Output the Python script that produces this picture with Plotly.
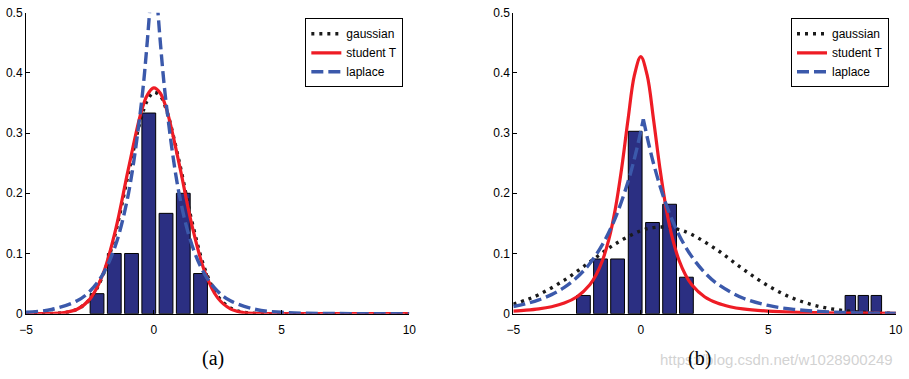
import plotly.graph_objects as go

# ---------------- panel (a): data without outliers ----------------
A_BAR_X = [-2.22, -1.545, -0.87, -0.195, 0.48, 1.155, 1.83]
A_BAR_Y = [0.0333, 0.1, 0.1, 0.3333, 0.1667, 0.2, 0.0667]

A_CURVE_X = [-5, -4, -3.5, -3, -2.5, -2, -1.5, -1, -0.5, -0.25, 0, 0.25, 0.5,
             1, 1.5, 2, 2.5, 3, 3.5, 4, 5, 6, 7, 8, 9, 10]
A_GAUSS_Y = [0.0000, 0.0004, 0.0018, 0.0073, 0.0238, 0.0627, 0.1339, 0.2314,
             0.3240, 0.3543, 0.3676, 0.3619, 0.3379, 0.2517, 0.1519, 0.0743,
             0.0294, 0.0094, 0.0025, 0.0005, 0, 0, 0, 0, 0, 0]
A_STUD_Y = [0.0000, 0.0003, 0.0018, 0.0073, 0.0242, 0.0644, 0.1383, 0.2393,
            0.3337, 0.3634, 0.3750, 0.3665, 0.3395, 0.2477, 0.1456, 0.0690,
            0.0263, 0.0081, 0.0020, 0.0004, 0, 0, 0, 0, 0, 0]
A_LAP_LX = [-5, -4, -3, -2.5, -2, -1.5, -1, -0.5, -0.25, 0]
A_LAP_LY = [0.0023, 0.0070, 0.0214, 0.0373, 0.0650, 0.1133, 0.1975, 0.3443, 0.4545, 0.6]
A_LAP_RX = [0, 0.25, 0.5, 1, 1.5, 2, 2.5, 3, 4, 5, 6, 7, 8, 9, 10]
A_LAP_RY = [0.6, 0.4545, 0.3443, 0.1975, 0.1133, 0.0650, 0.0373, 0.0214, 0.0070,
            0.0023, 0.0008, 0.0003, 0.0001, 0, 0]

# ---------------- panel (b): data with outliers ----------------
B_BAR_X = [-2.25, -1.58, -0.91, -0.22, 0.46, 1.13, 1.79, 8.22, 8.73, 9.24]
B_BAR_Y = [0.0303, 0.0909, 0.0909, 0.3030, 0.1515, 0.1818, 0.0606, 0.0303, 0.0303, 0.0303]

B_GAUSS_X = [-5, -4.5, -4, -3, -2, -1, 0, 0.5, 1, 1.5, 2, 3, 4, 5, 6, 7, 8, 9, 10]
B_GAUSS_Y = [0.0158, 0.0228, 0.0317, 0.0557, 0.0858, 0.1160, 0.1378, 0.1430, 0.1437,
             0.1397, 0.1315, 0.1057, 0.0745, 0.0461, 0.0251, 0.0120, 0.0050, 0.0018, 0.0006]
B_STUD_X = [-5, -4.5, -4, -3.5, -3, -2.5, -2, -1.75, -1.5, -1.25, -1, -0.75, -0.5, -0.25, 0,
            0.25, 0.5, 0.75, 1, 1.25, 1.5, 1.75, 2, 2.5, 3, 3.5, 4, 5, 6, 7, 8, 9, 10]
B_STUD_Y = [0.0043, 0.0058, 0.0080, 0.0116, 0.0176, 0.0281, 0.0481, 0.0648, 0.0888, 0.1237,
            0.1737, 0.2415, 0.3227, 0.3961, 0.4270, 0.3961, 0.3227, 0.2415, 0.1737, 0.1237,
            0.0888, 0.0648, 0.0481, 0.0281, 0.0176, 0.0116, 0.0080, 0.0043, 0.0025, 0.0016,
            0.0011, 0.0008, 0.0006]
B_LAP_LX = [-5, -4.5, -4, -3.5, -3, -2.5, -2, -1.5, -1, -0.5, -0.2, 0.1]
B_LAP_LY = [0.0120, 0.0166, 0.0229, 0.0317, 0.0437, 0.0604, 0.0833, 0.1151, 0.1589,
            0.2193, 0.2661, 0.323]
B_LAP_RX = [0.1, 0.5, 1, 1.5, 2, 2.5, 3, 4, 5, 6, 7, 8, 9, 10]
B_LAP_RY = [0.323, 0.2495, 0.1808, 0.1309, 0.0948, 0.0687, 0.0497, 0.0261, 0.0137,
            0.0072, 0.0038, 0.0020, 0.0010, 0.0005]

SERIES_NAMES = ["gaussian", "student T", "laplace"]
X_TICKS = [-5, 0, 5, 10]
X_TICK_TEXT = ["\u22125", "0", "5", "10"]
Y_TICKS = [0, 0.1, 0.2, 0.3, 0.4, 0.5]
Y_TICK_TEXT = ["0", "0.1", "0.2", "0.3", "0.4", "0.5"]
CAPTIONS = ["(a)", "(b)"]
WATERMARK = "https://blog.csdn.net/w1028900249"

# ---------------- styles ----------------
BAR_COLOR = "#2b2f82"
RED = "#ee1c25"
BLUE = "#3b59ab"
BLACK = "#1a1a1a"
MAIN_W = 0.54
OUT_W = 0.41
SANS = "Liberation Sans, Arial, sans-serif"

fig = go.Figure()


def add_panel(idx, bar_x, bar_y, bar_w, gx, gy, sx, sy, llx, lly, lrx, lry):
    xa = "x" if idx == 1 else "x2"
    ya = "y" if idx == 1 else "y2"
    lg = "legend" if idx == 1 else "legend2"
    fig.add_trace(go.Bar(x=bar_x, y=bar_y, width=bar_w, marker=dict(color=BAR_COLOR,
                         line=dict(color="black", width=1)), showlegend=False,
                         xaxis=xa, yaxis=ya, hoverinfo="skip"))
    fig.add_trace(go.Scatter(x=gx, y=gy, mode="lines", name=SERIES_NAMES[0],
                             line=dict(color=BLACK, width=3.4, dash="3px,5px", shape="spline"),
                             xaxis=xa, yaxis=ya, legend=lg))
    fig.add_trace(go.Scatter(x=sx, y=sy, mode="lines", name=SERIES_NAMES[1],
                             line=dict(color=RED, width=3.2, shape="spline"),
                             xaxis=xa, yaxis=ya, legend=lg))
    fig.add_trace(go.Scatter(x=llx, y=lly, mode="lines", name=SERIES_NAMES[2],
                             legendgroup="lap%d" % idx,
                             line=dict(color=BLUE, width=3.4, dash="12px,5px", shape="spline"),
                             xaxis=xa, yaxis=ya, legend=lg))
    fig.add_trace(go.Scatter(x=lrx, y=lry, mode="lines", name=SERIES_NAMES[2],
                             legendgroup="lap%d" % idx, showlegend=False,
                             line=dict(color=BLUE, width=3.4, dash="12px,5px", shape="spline"),
                             xaxis=xa, yaxis=ya, legend=lg))


add_panel(1, A_BAR_X, A_BAR_Y, [MAIN_W] * len(A_BAR_X),
          A_CURVE_X, A_GAUSS_Y, A_CURVE_X, A_STUD_Y, A_LAP_LX, A_LAP_LY, A_LAP_RX, A_LAP_RY)
add_panel(2, B_BAR_X, B_BAR_Y, [MAIN_W] * 7 + [OUT_W] * 3,
          B_GAUSS_X, B_GAUSS_Y, B_STUD_X, B_STUD_Y, B_LAP_LX, B_LAP_LY, B_LAP_RX, B_LAP_RY)

xcommon = dict(range=[-5, 10], tickvals=X_TICKS, ticktext=X_TICK_TEXT, ticks="inside",
               ticklen=4, tickcolor="black", showline=True, linecolor="black", linewidth=1,
               showgrid=False, zeroline=False, automargin=False, ticklabelstandoff=5,
               tickfont=dict(family=SANS, size=12, color="black"))
ycommon = dict(range=[0, 0.5], tickvals=Y_TICKS, ticktext=Y_TICK_TEXT, ticks="inside",
               ticklen=4, tickcolor="black", showline=True, linecolor="black", linewidth=1,
               showgrid=False, zeroline=False, automargin=False,
               tickfont=dict(family=SANS, size=12, color="black"))

ydom = [0.1723, 0.9665]
legend_common = dict(bgcolor="white", bordercolor="black", borderwidth=1,
                     font=dict(family=SANS, size=12, color="black"),
                     xanchor="left", yanchor="top", tracegroupgap=0, traceorder="normal")

fig.update_layout(
    width=909, height=379,
    margin=dict(l=0, r=0, t=0, b=0),
    paper_bgcolor="white", plot_bgcolor="white",
    barmode="overlay",
    xaxis=dict(domain=[0.0286, 0.4503], anchor="y", **xcommon),
    yaxis=dict(domain=ydom, anchor="x", **ycommon),
    xaxis2=dict(domain=[0.5647, 0.9854], anchor="y2", **xcommon),
    yaxis2=dict(domain=ydom, anchor="x2", **ycommon),
    legend=dict(x=0.3359, y=0.9517, **legend_common),
    legend2=dict(x=0.8702, y=0.9517, **legend_common),
    annotations=[
        dict(text=WATERMARK, x=0.8542, y=0.052, xref="paper", yref="paper",
             showarrow=False, xanchor="center", yanchor="middle",
             font=dict(family=SANS, size=15, color="rgba(195,195,195,0.75)")),
        dict(text=CAPTIONS[0], x=0.2341, y=0.0528, xref="paper", yref="paper",
             showarrow=False, xanchor="center", yanchor="middle",
             font=dict(family="Liberation Serif, Times New Roman, serif", size=20, color="black")),
        dict(text=CAPTIONS[1], x=0.7693, y=0.0528, xref="paper", yref="paper",
             showarrow=False, xanchor="center", yanchor="middle",
             font=dict(family="Liberation Serif, Times New Roman, serif", size=20, color="black")),
    ],
)

fig.write_html("out.html", config={"displayModeBar": False},
               post_script="document.body.style.margin='0px';document.body.style.overflow='hidden';")
